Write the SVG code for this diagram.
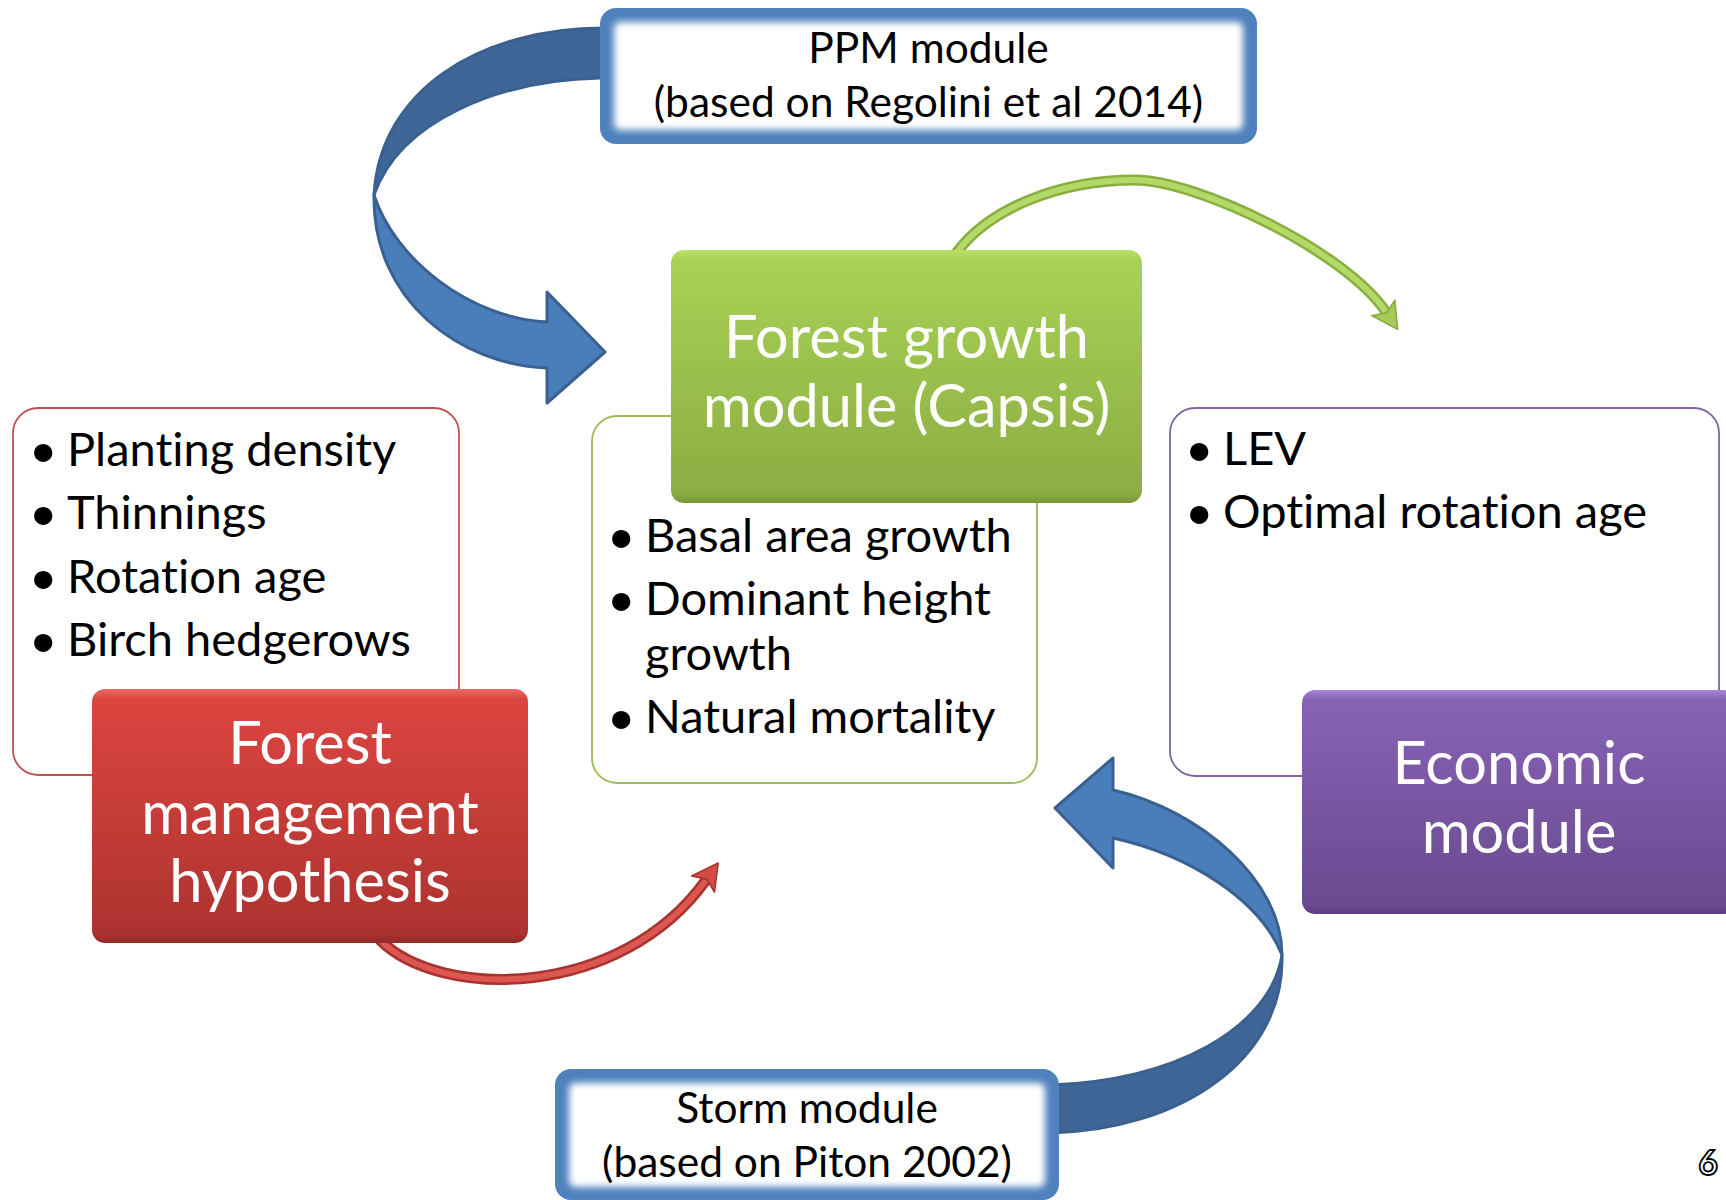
<svg xmlns="http://www.w3.org/2000/svg" width="1726" height="1200" viewBox="0 0 1726 1200">
<defs>
<style>
.t{font-family:Lato,"Open Sans","Liberation Sans",sans-serif;font-variant-ligatures:none;}
.title{font-size:59.5px;fill:#fff;text-anchor:middle;}
.bul{font-size:47px;fill:#000;}
.dot{font-size:49px;}
.mod{font-size:42.5px;fill:#000;text-anchor:middle;}
.bbox{fill:#fff;stroke-width:1.8;}
.front{fill:#4a7ebb;stroke:#3a6090;stroke-width:3;stroke-linejoin:round;}
.back{fill:#3f6696;stroke:#3a6090;stroke-width:3;stroke-linejoin:round;}
</style>
<linearGradient id="gGreen" x1="0" y1="0" x2="0" y2="1">
<stop offset="0" stop-color="#b9e06a"/><stop offset="0.04" stop-color="#a8d255"/><stop offset="0.96" stop-color="#8bad43"/><stop offset="1" stop-color="#779538"/>
</linearGradient>
<linearGradient id="gRed" x1="0" y1="0" x2="0" y2="1">
<stop offset="0" stop-color="#ec6a64"/><stop offset="0.04" stop-color="#dc4540"/><stop offset="0.96" stop-color="#ad3330"/><stop offset="1" stop-color="#922a27"/>
</linearGradient>
<linearGradient id="gPurple" x1="0" y1="0" x2="0" y2="1">
<stop offset="0" stop-color="#a988d6"/><stop offset="0.04" stop-color="#8763b6"/><stop offset="0.96" stop-color="#6a4a90"/><stop offset="1" stop-color="#5a3e7c"/>
</linearGradient>
<filter id="soft" x="-10%" y="-20%" width="120%" height="140%"><feGaussianBlur stdDeviation="3.5"/></filter>
<marker id="hG" markerUnits="userSpaceOnUse" viewBox="-10 -20 40 40" markerWidth="40" markerHeight="40" refX="0" refY="0" orient="auto">
<path d="M21,0 L-5,-14 L1,0 L-5,14 Z" fill="#a3cb55" stroke="#86a93d" stroke-width="1.5" stroke-linejoin="round"/>
</marker>
<marker id="hR" markerUnits="userSpaceOnUse" viewBox="-10 -20 40 40" markerWidth="40" markerHeight="40" refX="0" refY="0" orient="auto">
<path d="M21,0 L-5,-14 L1,0 L-5,14 Z" fill="#d44a44" stroke="#a3302c" stroke-width="1.5" stroke-linejoin="round"/>
</marker>
</defs>
<rect width="1726" height="1200" fill="#fff"/>

<g id="connectors">
  <g id="arrow-ppm">
    <path class="back" d="M610,28 L604,28 C480,28 380,90 374,195 C400,120 500,80 600,78 L610,78 Z"/>
    <path class="front" d="M374,195 C372,300 460,365 547,368 L547,403 L605,352 L547,292 L547,322 C470,318 395,260 374,195 Z"/>
  </g>
  <g id="arrow-storm">
    <path class="back" d="M1282,955 C1285,1060 1180,1130 1050,1133 L1050,1085 C1170,1082 1270,1030 1282,955 Z"/>
    <path class="front" d="M1113,790 C1200,810 1282,880 1282,955 C1260,900 1190,855 1113,838 L1113,868 L1055,808 L1113,758 Z"/>
  </g>
  <g id="arrow-green">
    <path d="M957,252 C990,208 1060,180 1135,180 C1196,180 1345,251 1386,312" fill="none" stroke="#88ae3f" stroke-width="11" stroke-linecap="round"/>
    <path d="M957,252 C990,208 1060,180 1135,180 C1196,180 1345,251 1386,312" fill="none" stroke="#b3da68" stroke-width="6" marker-end="url(#hG)"/>
  </g>
  <g id="arrow-red">
    <path d="M380,940 C440,1000 620,1000 706,880" fill="none" stroke="#a8322e" stroke-width="11" stroke-linecap="round"/>
    <path d="M380,940 C440,1000 620,1000 706,880" fill="none" stroke="#dc5750" stroke-width="6" marker-end="url(#hR)"/>
  </g>
</g>

<g id="ppm-module">
  <rect x="600" y="8" width="657" height="136" rx="16" fill="#4f81bd"/>
  <rect x="614" y="22" width="629" height="108" rx="6" fill="#fff" filter="url(#soft)"/>
  <text class="t mod" x="928.5" y="63">PPM module</text>
  <text class="t mod" x="928.5" y="117">(based on Regolini et al 2014)</text>
</g>

<g id="storm-module">
  <rect x="555" y="1069" width="504" height="131" rx="16" fill="#4f81bd"/>
  <rect x="569" y="1083" width="476" height="104" rx="6" fill="#fff" filter="url(#soft)"/>
  <text class="t mod" x="807" y="1123">Storm module</text>
  <text class="t mod" x="807" y="1177">(based on Piton 2002)</text>
</g>

<g id="growth-list">
  <rect class="bbox" x="592" y="416" width="445" height="367" rx="25" stroke="#9bbb59"/>
  <text class="t bul"><tspan class="dot" x="607" y="553">•</tspan><tspan x="645" y="552">Basal area growth</tspan></text>
  <text class="t bul"><tspan class="dot" x="607" y="616">•</tspan><tspan x="645" y="615">Dominant height</tspan></text>
  <text class="t bul"><tspan x="645" y="670">growth</tspan></text>
  <text class="t bul"><tspan class="dot" x="607" y="734">•</tspan><tspan x="645" y="733">Natural mortality</tspan></text>
</g>
<g id="growth-module">
  <rect x="671" y="250" width="471" height="253" rx="13" fill="url(#gGreen)"/>
  <text class="t title" x="906.5" y="358">Forest growth</text>
  <text class="t title" x="906.5" y="427">module (Capsis)</text>
</g>

<g id="management-list">
  <rect class="bbox" x="13" y="408" width="446" height="367" rx="25" stroke="#c0504d"/>
  <text class="t bul"><tspan class="dot" x="29" y="467">•</tspan><tspan x="67" y="466">Planting density</tspan></text>
  <text class="t bul"><tspan class="dot" x="29" y="530">•</tspan><tspan x="67" y="529">Thinnings</tspan></text>
  <text class="t bul"><tspan class="dot" x="29" y="594">•</tspan><tspan x="67" y="593">Rotation age</tspan></text>
  <text class="t bul"><tspan class="dot" x="29" y="657">•</tspan><tspan x="67" y="656">Birch hedgerows</tspan></text>
</g>
<g id="management-module">
  <rect x="92" y="689" width="436" height="254" rx="13" fill="url(#gRed)"/>
  <text class="t title" x="310" y="764">Forest</text>
  <text class="t title" x="310" y="834">management</text>
  <text class="t title" x="310" y="902">hypothesis</text>
</g>

<g id="economic-list">
  <rect class="bbox" x="1170" y="408" width="549" height="368" rx="25" stroke="#8064a2"/>
  <text class="t bul"><tspan class="dot" x="1185" y="466">•</tspan><tspan x="1223" y="465">LEV</tspan></text>
  <text class="t bul"><tspan class="dot" x="1185" y="529">•</tspan><tspan x="1223" y="528">Optimal rotation age</tspan></text>
</g>
<g id="economic-module">
  <rect x="1302" y="690" width="434" height="224" rx="13" fill="url(#gPurple)"/>
  <text class="t title" x="1519" y="784">Economic</text>
  <text class="t title" x="1519" y="853">module</text>
</g>

<text class="t" x="1708" y="1175" font-size="34" font-weight="bold" fill="#fff" stroke="#000" stroke-width="1.8" text-anchor="middle">6</text>
</svg>
